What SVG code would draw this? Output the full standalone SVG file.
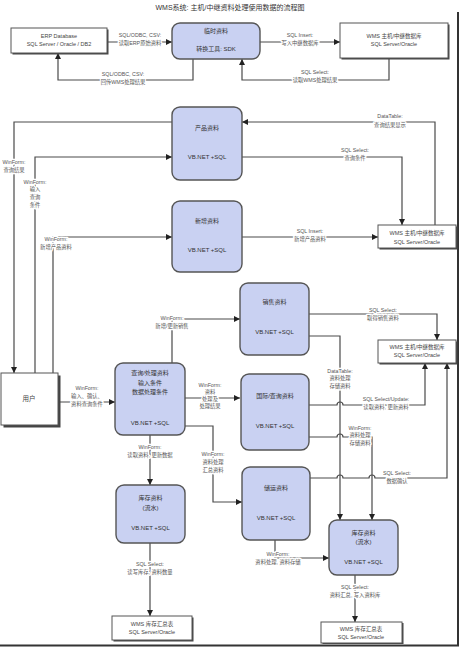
<svg xmlns="http://www.w3.org/2000/svg" width="463" height="649" viewBox="0 0 463 649">
<style>
text{font-family:"Liberation Sans","Noto Sans CJK SC",sans-serif;text-anchor:middle}
.t{font-size:7px;fill:#333}
.nd rect{fill:#c9d1f2;stroke:#555;stroke-width:1.4}
.nd text{font-size:6px;fill:#333}
.bx rect.s{fill:#444;stroke:none}
.bx rect.f{fill:#fff;stroke:#555;stroke-width:1}
.bx text{font-size:5.5px;fill:#444}
.cn path{fill:none;stroke:#4a4a4a;stroke-width:1.2}
.cn path.a{marker-end:url(#ah)}
.lb text{font-size:5.3px;fill:#555;stroke:#fff;stroke-width:2.6px;paint-order:stroke;stroke-linejoin:round}
</style>
<defs>
<marker id="ah" markerUnits="userSpaceOnUse" markerWidth="6" markerHeight="6" refX="6" refY="3" orient="auto">
<path d="M0,0 L6,3 L0,6 z" fill="#222"/>
</marker>
</defs>
<rect width="463" height="649" fill="#fff"/>
<path d="M458,12 V646 M0,645.5 H459" stroke="#333" stroke-width="2" fill="none"/>
<text class="t" x="230" y="10">WMS系统: 主机/中继资料处理使用数据的流程图</text>

<g class="cn">
<path class="a" d="M107,42 H172"/>
<path class="a" d="M260,42 H340"/>
<path class="a" d="M193,59 V80 H58 V53"/>
<path class="a" d="M389,58 V80 H242 V59"/>
<path class="a" d="M435,225 V122 H242"/>
<path class="a" d="M172,122 H14 V373"/>
<path class="a" d="M35,373 V157 H172"/>
<path class="a" d="M242,157 H402 V225"/>
<path class="a" d="M53,373 V237 H172"/>
<path class="a" d="M242,237 H378"/>
<path class="a" d="M58,402 H115"/>
<path class="a" d="M172,363 V319 H240"/>
<path class="a" d="M309,314 H437 V340"/>
<path class="a" d="M309,336 H340 V520"/>
<path class="a" d="M185,398 H240"/>
<path class="a" d="M309,405 H337 a3,3 0 0 1 6,0 H425 V363"/>
<path class="a" d="M309,437 H337 a3,3 0 0 1 6,0 H372 V520"/>
<path class="a" d="M310,478 H337 a3,3 0 0 1 6,0 H369 a3,3 0 0 1 6,0 H447 V363"/>
<path class="a" d="M185,426 H213 V502 H242"/>
<path class="a" d="M150,435 V485"/>
<path class="a" d="M150,543 V616"/>
<path class="a" d="M275,540 V558 H329"/>
<path class="a" d="M355,575 V622"/>
</g>

<g class="lb">
<text x="140" y="37">SQL/ODBC, CSV:</text><text x="140" y="45">读取ERP原始资料</text>
<text x="300" y="37">SQL Insert:</text><text x="300" y="45">写入中继数据库</text>
<text x="123" y="76">SQL/ODBC, CSV:</text><text x="123" y="84">回传WMS处理结果</text>
<text x="315" y="74">SQL Select:</text><text x="315" y="82">读取WMS处理结果</text>
<text x="390" y="118">DataTable:</text><text x="390" y="127">查询结果显示</text>
<text x="14" y="164">WinForm:</text><text x="14" y="172">查询结果</text>
<text x="35" y="184">WinForm:</text><text x="35" y="191">输入</text><text x="35" y="199">查询</text><text x="35" y="207">条件</text>
<text x="355" y="152">SQL Select:</text><text x="355" y="160">查询条件</text>
<text x="56" y="241">WinForm:</text><text x="56" y="249">新增产品资料</text>
<text x="310" y="233">SQL Insert:</text><text x="310" y="241">新增产品资料</text>
<text x="87" y="390">WinForm:</text><text x="87" y="398">输入、确认、</text><text x="87" y="406">资料查询条件</text>
<text x="172" y="320">WinForm:</text><text x="172" y="328">新增/更新销售</text>
<text x="383" y="312">SQL Select:</text><text x="383" y="320">取得销售资料</text>
<text x="340" y="373">DataTable:</text><text x="340" y="380">资料处理</text><text x="340" y="388">存储资料</text>
<text x="210" y="387">WinForm:</text><text x="210" y="394">资料</text><text x="210" y="401">处理及</text><text x="210" y="408">处理结果</text>
<text x="386" y="401">SQL Select/Update:</text><text x="386" y="409">读取资料, 更新资料</text>
<text x="360" y="430">WinForm:</text><text x="360" y="437">资料处理</text><text x="360" y="445">存储资料</text>
<text x="397" y="475">SQL Select:</text><text x="397" y="483">数据确认</text>
<text x="213" y="456">WinForm:</text><text x="213" y="464">资料处理</text><text x="213" y="472">汇总资料</text>
<text x="150" y="449">WinForm:</text><text x="150" y="457">读取资料, 更新数据</text>
<text x="150" y="566">SQL Select:</text><text x="150" y="574">读写库存, 资料数量</text>
<text x="278" y="556">WinForm:</text><text x="278" y="564">资料处理, 资料存储</text>
<text x="355" y="589">SQL Select:</text><text x="355" y="597">资料汇总, 写入资料库</text>
</g>

<g id="erp" class="bx"><rect class="s" x="12.5" y="29.5" width="96" height="25"/><rect class="f" x="11" y="28" width="96" height="25"/><text x="59" y="38">ERP Database</text><text x="59" y="46">SQL Server / Oracle / DB2</text></g>
<g id="wms1" class="bx"><rect class="s" x="341.5" y="24.5" width="108" height="35"/><rect class="f" x="340" y="23" width="108" height="35"/><text x="394" y="38">WMS 主机/中继数据库</text><text x="394" y="46">SQL Server/Oracle</text></g>
<g id="wms2" class="bx"><rect class="s" x="379.5" y="226.5" width="78" height="23"/><rect class="f" x="378" y="225" width="78" height="23"/><text x="417" y="235">WMS 主机/中继数据库</text><text x="417" y="244">SQL Server/Oracle</text></g>
<g id="wms3" class="bx"><rect class="s" x="379.5" y="341.5" width="78" height="23"/><rect class="f" x="378" y="340" width="78" height="23"/><text x="417" y="349">WMS 主机/中继数据库</text><text x="417" y="357">SQL Server/Oracle</text></g>
<g id="stockBL" class="bx"><rect class="s" x="113.5" y="617.5" width="80" height="24"/><rect class="f" x="112" y="616" width="80" height="24"/><text x="152" y="626">WMS 库存汇总表</text><text x="152" y="634">SQL Server/Oracle</text></g>
<g id="stockBR" class="bx"><rect class="s" x="322.5" y="623" width="81" height="21"/><rect class="f" x="321" y="622" width="81" height="21"/><text x="361" y="631">WMS 库存汇总表</text><text x="361" y="639">SQL Server/Oracle</text></g>
<g id="user" class="bx"><rect class="s" x="3.5" y="375.5" width="57" height="52"/><rect class="f" x="1" y="373" width="57" height="52"/><text x="29" y="401" style="font-size:6.5px">用户</text></g>

<g id="temp" class="nd"><rect x="172" y="23" width="88" height="36" rx="8"/><text x="216" y="33">临时资料</text><text x="216" y="51">转换工具: SDK</text></g>
<g id="product" class="nd"><rect x="172" y="107" width="70" height="73" rx="8"/><text x="207" y="130">产品资料</text><text x="207" y="159">VB.NET +SQL</text></g>
<g id="newdata" class="nd"><rect x="172" y="201" width="70" height="71" rx="8"/><text x="207" y="223">新增资料</text><text x="207" y="252">VB.NET +SQL</text></g>
<g id="sales" class="nd"><rect x="240" y="283" width="69" height="72" rx="8"/><text x="274.5" y="304">销售资料</text><text x="274.5" y="334">VB.NET +SQL</text></g>
<g id="query" class="nd"><rect x="115" y="363" width="70" height="72" rx="8"/><text x="150" y="375">查询/处理资料</text><text x="150" y="385">输入条件</text><text x="150" y="394">数据处理条件</text><text x="150" y="425">VB.NET +SQL</text></g>
<g id="intl" class="nd"><rect x="241" y="374" width="68" height="76" rx="8"/><text x="275" y="398">国际/查询资料</text><text x="275" y="428">VB.NET +SQL</text></g>
<g id="ship" class="nd"><rect x="242" y="467" width="68" height="73" rx="8"/><text x="276" y="490">储运资料</text><text x="276" y="520">VB.NET +SQL</text></g>
<g id="stock1" class="nd"><rect x="116" y="485" width="69" height="58" rx="8"/><text x="150.5" y="500">库存资料</text><text x="150.5" y="510">(流水)</text><text x="150.5" y="530">VB.NET +SQL</text></g>
<g id="stock2" class="nd"><rect x="329" y="520" width="69" height="55" rx="8"/><text x="363.5" y="535">库存资料</text><text x="363.5" y="544">(流水)</text><text x="363.5" y="564">VB.NET +SQL</text></g>
</svg>
